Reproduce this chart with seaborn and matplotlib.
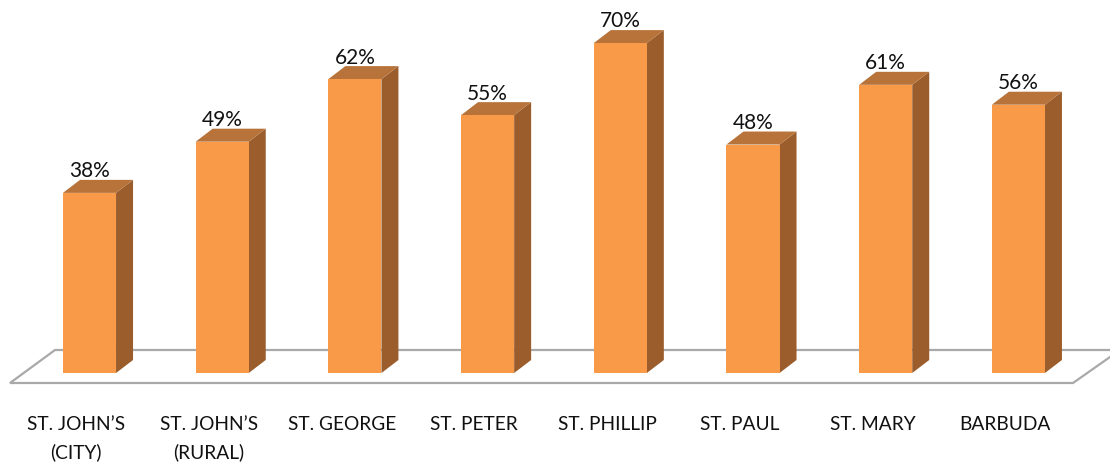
import matplotlib
matplotlib.use("Agg")
import matplotlib.pyplot as plt
import seaborn as sns
from matplotlib.patches import Polygon

parishes = ["ST. JOHN’S\n(CITY)", "ST. JOHN’S\n(RURAL)", "ST. GEORGE", "ST. PETER",
            "ST. PHILLIP", "ST. PAUL", "ST. MARY", "BARBUDA"]
shares = [38, 49, 62, 55, 70, 48, 61, 56]
# heights as drawn, the printed labels are rounded differently
heights = [38.0, 48.8, 62.0, 54.4, 69.6, 48.2, 60.8, 56.6]

FRONT = "#F99A49"
SIDE = "#9A5D2B"
TOP = "#B7733A"
GREY = "#A9A9A9"

W, H = 1110, 468
PX_X = 132.7    # pixels per category
PX_Y = 4.74     # pixels per percent
BASE = 373      # bar foot, pixels from the top
DX = 17 / PX_X  # depth of the fake 3d
DY = 13 / PX_Y

sns.set_theme(style="white")
plt.rcParams["font.family"] = ["Lato", "DejaVu Sans"]

fig = plt.figure(figsize=(W / 100, H / 100), dpi=100)
ax = fig.add_axes([0, (H - BASE) / H, 1, BASE / H])

sns.barplot(x=parishes, y=heights, color=FRONT, saturation=1, width=0.4, linewidth=0, ax=ax, zorder=3)

# floor
floor = [(10, 383), (1073, 383), (1120, 350), (55, 350)]
floor = [((px - 89.5) / PX_X, (BASE - py) / PX_Y) for px, py in floor]
ax.add_patch(Polygon(floor, closed=True, fc="white", ec=GREY, lw=1.6, clip_on=False, zorder=0))

# side and top faces, value labels
for bar, val in zip(ax.containers[0], shares):
    x0, x1 = bar.get_x(), bar.get_x() + bar.get_width()
    h = bar.get_height()
    ax.add_patch(Polygon([(x1, 0), (x1 + DX, DY), (x1 + DX, h + DY), (x1, h)],
                         closed=True, fc=SIDE, ec="none", zorder=2))
    ax.add_patch(Polygon([(x0, h), (x1, h), (x1 + DX, h + DY), (x0 + DX, h + DY)],
                         closed=True, fc=TOP, ec="none", zorder=2))
    ax.annotate(f"{val}%", ((x0 + x1) / 2, h + DY), xytext=(0, -1), textcoords="offset points",
                ha="center", va="bottom", fontsize=15, color="#111111", annotation_clip=False)

ax.set_xlim(-89.5 / PX_X, (W - 89.5) / PX_X)
ax.set_ylim(0, BASE / PX_Y)
ax.set_xticks([i - 0.1 for i in range(len(parishes))])
ax.set_xticklabels(parishes, fontsize=13.8, color="#111111", linespacing=1.7)
ax.tick_params(axis="x", length=0, pad=31)
ax.set_yticks([])
ax.set_xlabel("")
ax.set_ylabel("")
sns.despine(ax=ax, left=True, bottom=True)

fig.savefig("out.png", dpi=100, facecolor="white")
plt.close(fig)
